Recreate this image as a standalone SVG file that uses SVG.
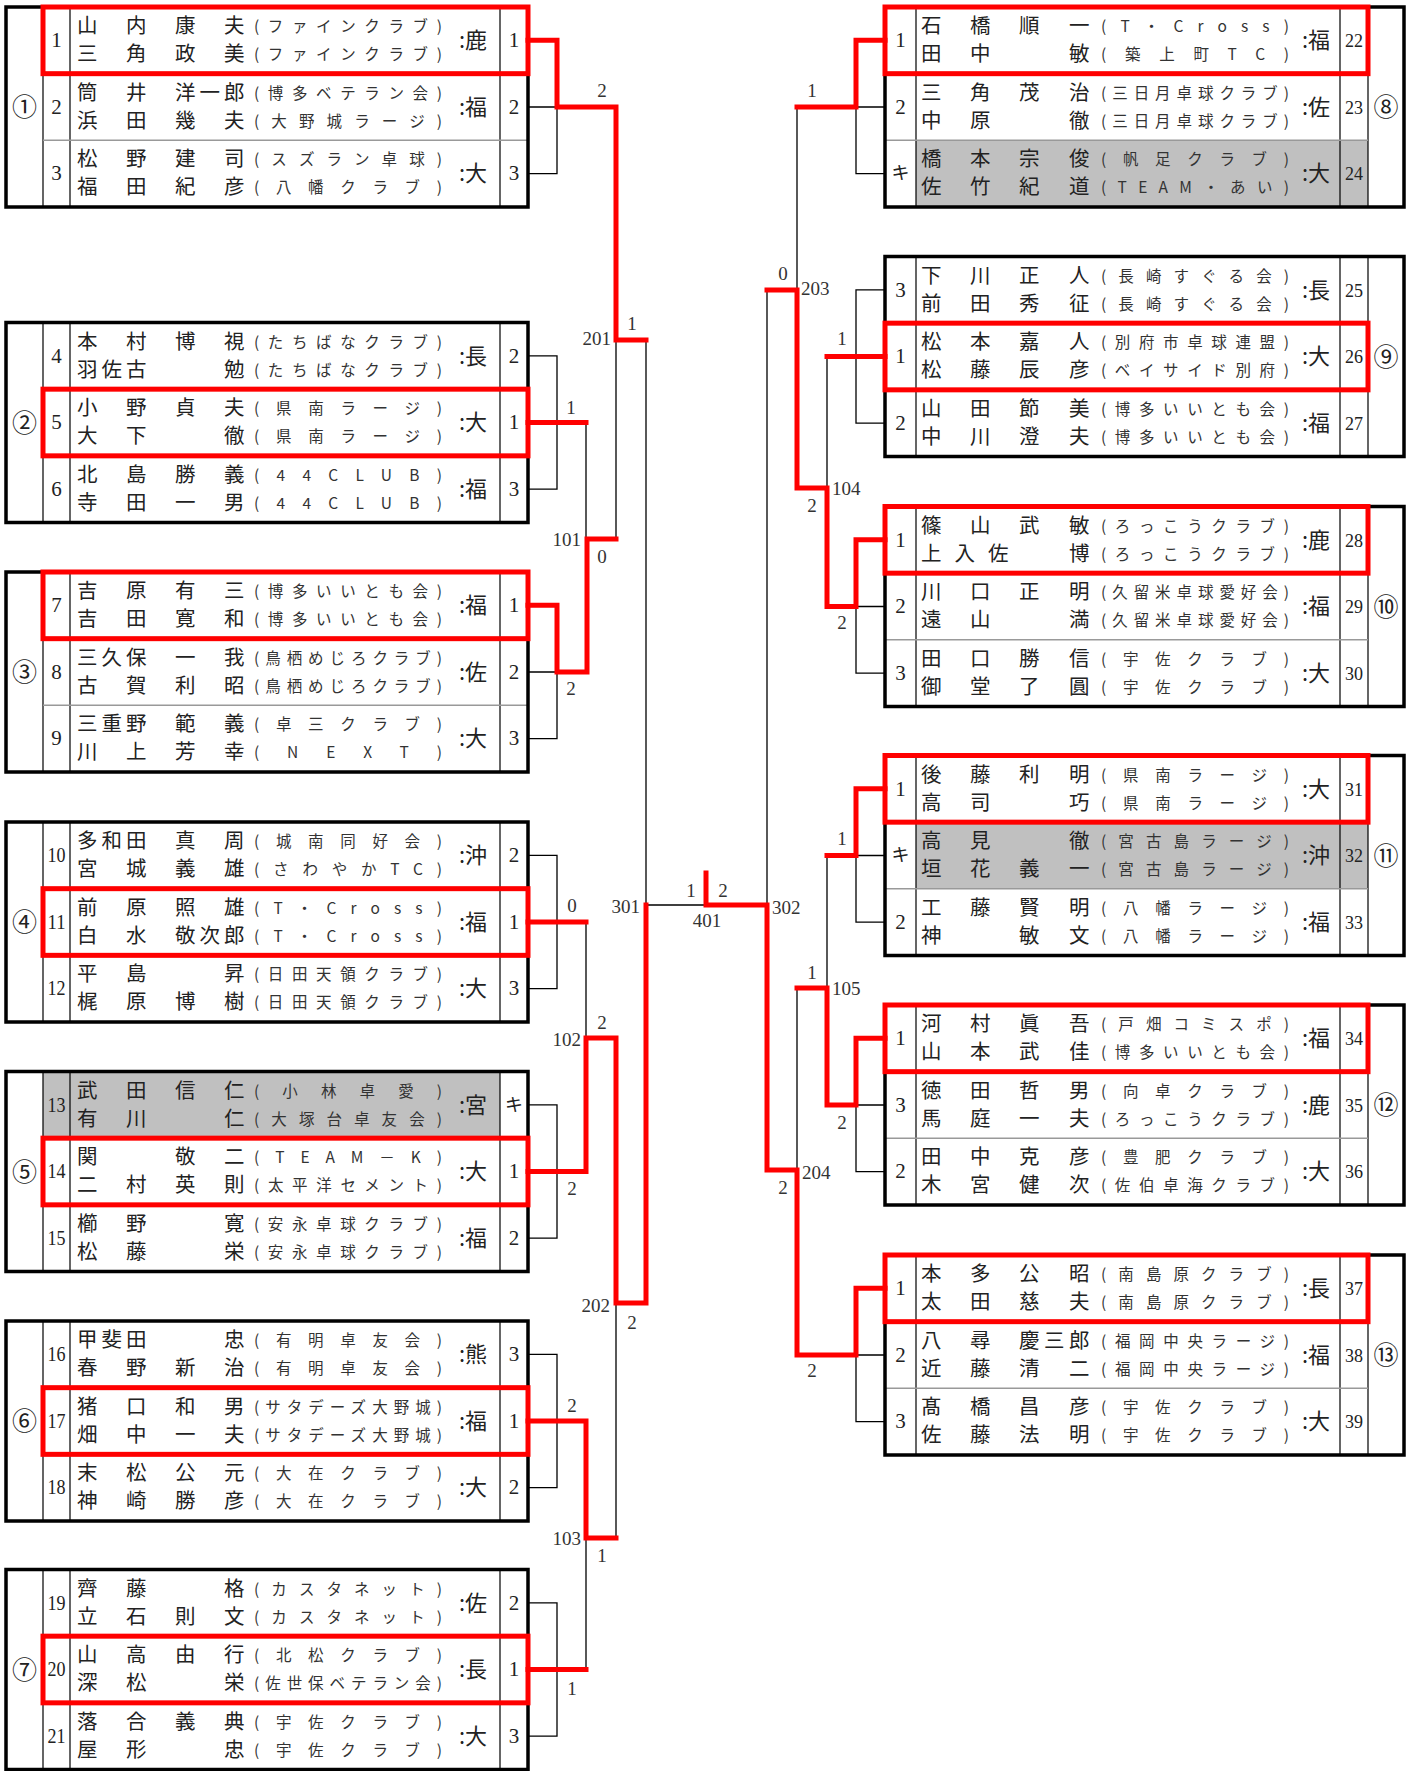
<svg xmlns="http://www.w3.org/2000/svg" xmlns:xlink="http://www.w3.org/1999/xlink" width="1412" height="1771" viewBox="0 0 1412 1771">
<style>
.ob{fill:none;stroke:#000;stroke-width:3.5}
.cd{stroke:#000;stroke-width:1.2}
.rd{stroke:#999;stroke-width:1.5}
.gr{fill:#c0c0c0}
.rb{fill:none;stroke:#f00;stroke-width:5}
.nm{font-family:"Noto Sans CJK JP",sans-serif;font-size:20.5px;fill:#222}
.cl{font-family:"Noto Sans CJK JP",sans-serif;font-size:15.5px;fill:#333}
.rg{font-family:"Noto Sans CJK JP",sans-serif;font-size:22px;fill:#222}
.ci{font-family:"Noto Sans CJK JP",sans-serif;font-size:25px;fill:#222;text-anchor:middle}
.ki{font-family:"Noto Sans CJK JP",sans-serif;font-size:18px;fill:#222;text-anchor:middle}
.nu{font-family:"Liberation Serif",serif;font-size:21px;fill:#222;text-anchor:middle}
.tn{font-family:"Liberation Serif",serif;font-size:19px;fill:#222;text-anchor:middle}
.lb{font-family:"Liberation Serif",serif;font-size:19px;fill:#333;text-anchor:middle}
.le{text-anchor:start}
.ri{text-anchor:end}
.c{fill:none;stroke:#000;stroke-width:1.3}
.r{fill:none;stroke:#f00;stroke-width:5;stroke-linecap:square}
</style>
<defs>
<g id="lframe">
<path class="cd" d="M43,0V200M70,0V200M500,0V200"/>
<path class="rd" d="M43,66.67H528M43,133.33H528"/>
<rect class="ob" x="6" y="0" width="522" height="200"/>
</g>
<g id="rframe">
<path class="cd" d="M916,0V200M1340,0V200M1368,0V200"/>
<path class="rd" d="M885,66.67H1368M885,133.33H1368"/>
<rect class="ob" x="885" y="0" width="519" height="200"/>
</g>
<rect id="lred" class="rb" x="43" y="0" width="485" height="66.67"/>
<rect id="rred" class="rb" x="885" y="0" width="483" height="66.67"/>
</defs>

<!-- LEFT GROUPS -->
<g id="group1" transform="translate(0,7)">
<use xlink:href="#lframe"/>
<use xlink:href="#lred" y="0"/>
<text class="ci" x="24.5" y="109">①</text>
<g id="e1">
<text class="nu" x="56.5" y="40">1</text>
<text class="nm" x="77 126 175 224" y="26">山内康夫</text>
<text class="nm" x="77 126 175 224" y="54">三角政美</text>
<text class="cl" x="254" y="25" textLength="188">(ファインクラブ)</text>
<text class="cl" x="254" y="53" textLength="188">(ファインクラブ)</text>
<text class="rg" x="459" y="41">:鹿</text>
<text class="nu" x="514" y="40">1</text>
</g>
<g id="e2" transform="translate(0,66.67)">
<text class="nu" x="56.5" y="40">2</text>
<text class="nm" x="77 126 175 199.5 224" y="26">筒井洋一郎</text>
<text class="nm" x="77 126 175 224" y="54">浜田幾夫</text>
<text class="cl" x="254" y="25" textLength="188">(博多ベテラン会)</text>
<text class="cl" x="254" y="53" textLength="188">(大野城ラージ)</text>
<text class="rg" x="459" y="41">:福</text>
<text class="nu" x="514" y="40">2</text>
</g>
<g id="e3" transform="translate(0,133.33)">
<text class="nu" x="56.5" y="40">3</text>
<text class="nm" x="77 126 175 224" y="26">松野建司</text>
<text class="nm" x="77 126 175 224" y="54">福田紀彦</text>
<text class="cl" x="254" y="25" textLength="188">(スズラン卓球)</text>
<text class="cl" x="254" y="53" textLength="188">(八幡クラブ)</text>
<text class="rg" x="459" y="41">:大</text>
<text class="nu" x="514" y="40">3</text>
</g>
</g>

<g id="group2" transform="translate(0,322.5)">
<use xlink:href="#lframe"/>
<use xlink:href="#lred" y="66.67"/>
<text class="ci" x="24.5" y="109">②</text>
<g id="e4">
<text class="nu" x="56.5" y="40">4</text>
<text class="nm" x="77 126 175 224" y="26">本村博視</text>
<text class="nm" x="77 101.5 126 224" y="54">羽佐古勉</text>
<text class="cl" x="254" y="25" textLength="188">(たちばなクラブ)</text>
<text class="cl" x="254" y="53" textLength="188">(たちばなクラブ)</text>
<text class="rg" x="459" y="41">:長</text>
<text class="nu" x="514" y="40">2</text>
</g>
<g id="e5" transform="translate(0,66.67)">
<text class="nu" x="56.5" y="40">5</text>
<text class="nm" x="77 126 175 224" y="26">小野貞夫</text>
<text class="nm" x="77 126 224" y="54">大下徹</text>
<text class="cl" x="254" y="25" textLength="188">(県南ラージ)</text>
<text class="cl" x="254" y="53" textLength="188">(県南ラージ)</text>
<text class="rg" x="459" y="41">:大</text>
<text class="nu" x="514" y="40">1</text>
</g>
<g id="e6" transform="translate(0,133.33)">
<text class="nu" x="56.5" y="40">6</text>
<text class="nm" x="77 126 175 224" y="26">北島勝義</text>
<text class="nm" x="77 126 175 224" y="54">寺田一男</text>
<text class="cl" x="254" y="25" textLength="188">(44CLUB)</text>
<text class="cl" x="254" y="53" textLength="188">(44CLUB)</text>
<text class="rg" x="459" y="41">:福</text>
<text class="nu" x="514" y="40">3</text>
</g>
</g>

<g id="group3" transform="translate(0,572)">
<use xlink:href="#lframe"/>
<use xlink:href="#lred" y="0"/>
<text class="ci" x="24.5" y="109">③</text>
<g id="e7">
<text class="nu" x="56.5" y="40">7</text>
<text class="nm" x="77 126 175 224" y="26">吉原有三</text>
<text class="nm" x="77 126 175 224" y="54">吉田寛和</text>
<text class="cl" x="254" y="25" textLength="188">(博多いいとも会)</text>
<text class="cl" x="254" y="53" textLength="188">(博多いいとも会)</text>
<text class="rg" x="459" y="41">:福</text>
<text class="nu" x="514" y="40">1</text>
</g>
<g id="e8" transform="translate(0,66.67)">
<text class="nu" x="56.5" y="40">8</text>
<text class="nm" x="77 101.5 126 175 224" y="26">三久保一我</text>
<text class="nm" x="77 126 175 224" y="54">古賀利昭</text>
<text class="cl" x="254" y="25" textLength="188">(鳥栖めじろクラブ)</text>
<text class="cl" x="254" y="53" textLength="188">(鳥栖めじろクラブ)</text>
<text class="rg" x="459" y="41">:佐</text>
<text class="nu" x="514" y="40">2</text>
</g>
<g id="e9" transform="translate(0,133.33)">
<text class="nu" x="56.5" y="40">9</text>
<text class="nm" x="77 101.5 126 175 224" y="26">三重野範義</text>
<text class="nm" x="77 126 175 224" y="54">川上芳幸</text>
<text class="cl" x="254" y="25" textLength="188">(卓三クラブ)</text>
<text class="cl" x="254" y="53" textLength="188">(NEXT)</text>
<text class="rg" x="459" y="41">:大</text>
<text class="nu" x="514" y="40">3</text>
</g>
</g>

<g id="group4" transform="translate(0,822)">
<use xlink:href="#lframe"/>
<use xlink:href="#lred" y="66.67"/>
<text class="ci" x="24.5" y="109">④</text>
<g id="e10">
<text class="nu" x="56.5" y="40" textLength="18" lengthAdjust="spacingAndGlyphs">10</text>
<text class="nm" x="77 101.5 126 175 224" y="26">多和田真周</text>
<text class="nm" x="77 126 175 224" y="54">宮城義雄</text>
<text class="cl" x="254" y="25" textLength="188">(城南同好会)</text>
<text class="cl" x="254" y="53" textLength="188">(さわやかTC)</text>
<text class="rg" x="459" y="41">:沖</text>
<text class="nu" x="514" y="40">2</text>
</g>
<g id="e11" transform="translate(0,66.67)">
<text class="nu" x="56.5" y="40" textLength="18" lengthAdjust="spacingAndGlyphs">11</text>
<text class="nm" x="77 126 175 224" y="26">前原照雄</text>
<text class="nm" x="77 126 175 199.5 224" y="54">白水敬次郎</text>
<text class="cl" x="254" y="25" textLength="188">(T・Cross)</text>
<text class="cl" x="254" y="53" textLength="188">(T・Cross)</text>
<text class="rg" x="459" y="41">:福</text>
<text class="nu" x="514" y="40">1</text>
</g>
<g id="e12" transform="translate(0,133.33)">
<text class="nu" x="56.5" y="40" textLength="18" lengthAdjust="spacingAndGlyphs">12</text>
<text class="nm" x="77 126 224" y="26">平島昇</text>
<text class="nm" x="77 126 175 224" y="54">梶原博樹</text>
<text class="cl" x="254" y="25" textLength="188">(日田天領クラブ)</text>
<text class="cl" x="254" y="53" textLength="188">(日田天領クラブ)</text>
<text class="rg" x="459" y="41">:大</text>
<text class="nu" x="514" y="40">3</text>
</g>
</g>

<g id="group5" transform="translate(0,1071.5)">
<rect class="gr" x="43" y="0" width="457" height="66.67"/>
<use xlink:href="#lframe"/>
<use xlink:href="#lred" y="66.67"/>
<text class="ci" x="24.5" y="109">⑤</text>
<g id="e13">
<text class="nu" x="56.5" y="40" textLength="18" lengthAdjust="spacingAndGlyphs">13</text>
<text class="nm" x="77 126 175 224" y="26">武田信仁</text>
<text class="nm" x="77 126 224" y="54">有川仁</text>
<text class="cl" x="254" y="25" textLength="188">(小林卓愛)</text>
<text class="cl" x="254" y="53" textLength="188">(大塚台卓友会)</text>
<text class="rg" x="459" y="41">:宮</text>
<text class="ki" x="514" y="39">キ</text>
</g>
<g id="e14" transform="translate(0,66.67)">
<text class="nu" x="56.5" y="40" textLength="18" lengthAdjust="spacingAndGlyphs">14</text>
<text class="nm" x="77 175 224" y="26">関敬二</text>
<text class="nm" x="77 126 175 224" y="54">二村英則</text>
<text class="cl" x="254" y="25" textLength="188">(TEAM－K)</text>
<text class="cl" x="254" y="53" textLength="188">(太平洋セメント)</text>
<text class="rg" x="459" y="41">:大</text>
<text class="nu" x="514" y="40">1</text>
</g>
<g id="e15" transform="translate(0,133.33)">
<text class="nu" x="56.5" y="40" textLength="18" lengthAdjust="spacingAndGlyphs">15</text>
<text class="nm" x="77 126 224" y="26">櫛野寛</text>
<text class="nm" x="77 126 224" y="54">松藤栄</text>
<text class="cl" x="254" y="25" textLength="188">(安永卓球クラブ)</text>
<text class="cl" x="254" y="53" textLength="188">(安永卓球クラブ)</text>
<text class="rg" x="459" y="41">:福</text>
<text class="nu" x="514" y="40">2</text>
</g>
</g>

<g id="group6" transform="translate(0,1321)">
<use xlink:href="#lframe"/>
<use xlink:href="#lred" y="66.67"/>
<text class="ci" x="24.5" y="109">⑥</text>
<g id="e16">
<text class="nu" x="56.5" y="40" textLength="18" lengthAdjust="spacingAndGlyphs">16</text>
<text class="nm" x="77 101.5 126 224" y="26">甲斐田忠</text>
<text class="nm" x="77 126 175 224" y="54">春野新治</text>
<text class="cl" x="254" y="25" textLength="188">(有明卓友会)</text>
<text class="cl" x="254" y="53" textLength="188">(有明卓友会)</text>
<text class="rg" x="459" y="41">:熊</text>
<text class="nu" x="514" y="40">3</text>
</g>
<g id="e17" transform="translate(0,66.67)">
<text class="nu" x="56.5" y="40" textLength="18" lengthAdjust="spacingAndGlyphs">17</text>
<text class="nm" x="77 126 175 224" y="26">猪口和男</text>
<text class="nm" x="77 126 175 224" y="54">畑中一夫</text>
<text class="cl" x="254" y="25" textLength="188">(サタデーズ大野城)</text>
<text class="cl" x="254" y="53" textLength="188">(サタデーズ大野城)</text>
<text class="rg" x="459" y="41">:福</text>
<text class="nu" x="514" y="40">1</text>
</g>
<g id="e18" transform="translate(0,133.33)">
<text class="nu" x="56.5" y="40" textLength="18" lengthAdjust="spacingAndGlyphs">18</text>
<text class="nm" x="77 126 175 224" y="26">末松公元</text>
<text class="nm" x="77 126 175 224" y="54">神崎勝彦</text>
<text class="cl" x="254" y="25" textLength="188">(大在クラブ)</text>
<text class="cl" x="254" y="53" textLength="188">(大在クラブ)</text>
<text class="rg" x="459" y="41">:大</text>
<text class="nu" x="514" y="40">2</text>
</g>
</g>

<g id="group7" transform="translate(0,1569.5)">
<use xlink:href="#lframe"/>
<use xlink:href="#lred" y="66.67"/>
<text class="ci" x="24.5" y="109">⑦</text>
<g id="e19">
<text class="nu" x="56.5" y="40" textLength="18" lengthAdjust="spacingAndGlyphs">19</text>
<text class="nm" x="77 126 224" y="26">齊藤格</text>
<text class="nm" x="77 126 175 224" y="54">立石則文</text>
<text class="cl" x="254" y="25" textLength="188">(カスタネット)</text>
<text class="cl" x="254" y="53" textLength="188">(カスタネット)</text>
<text class="rg" x="459" y="41">:佐</text>
<text class="nu" x="514" y="40">2</text>
</g>
<g id="e20" transform="translate(0,66.67)">
<text class="nu" x="56.5" y="40" textLength="18" lengthAdjust="spacingAndGlyphs">20</text>
<text class="nm" x="77 126 175 224" y="26">山高由行</text>
<text class="nm" x="77 126 224" y="54">深松栄</text>
<text class="cl" x="254" y="25" textLength="188">(北松クラブ)</text>
<text class="cl" x="254" y="53" textLength="188">(佐世保ベテラン会)</text>
<text class="rg" x="459" y="41">:長</text>
<text class="nu" x="514" y="40">1</text>
</g>
<g id="e21" transform="translate(0,133.33)">
<text class="nu" x="56.5" y="40" textLength="18" lengthAdjust="spacingAndGlyphs">21</text>
<text class="nm" x="77 126 175 224" y="26">落合義典</text>
<text class="nm" x="77 126 224" y="54">屋形忠</text>
<text class="cl" x="254" y="25" textLength="188">(宇佐クラブ)</text>
<text class="cl" x="254" y="53" textLength="188">(宇佐クラブ)</text>
<text class="rg" x="459" y="41">:大</text>
<text class="nu" x="514" y="40">3</text>
</g>
</g>

<!-- RIGHT GROUPS -->
<g id="group8" transform="translate(0,7)">
<rect class="gr" x="916" y="133.33" width="452" height="66.67"/>
<use xlink:href="#rframe"/>
<use xlink:href="#rred" y="0"/>
<text class="ci" x="1386" y="109">⑧</text>
<g id="e22">
<text class="nu" x="900.5" y="40">1</text>
<text class="nm" x="921 970 1019 1069" y="26">石橋順一</text>
<text class="nm" x="921 970 1069" y="54">田中敏</text>
<text class="cl" x="1101" y="25" textLength="188">(T・Cross)</text>
<text class="cl" x="1101" y="53" textLength="188">(築上町TC)</text>
<text class="rg" x="1302" y="41">:福</text>
<text class="tn" x="1354" y="40" textLength="18" lengthAdjust="spacingAndGlyphs">22</text>
</g>
<g id="e23" transform="translate(0,66.67)">
<text class="nu" x="900.5" y="40">2</text>
<text class="nm" x="921 970 1019 1069" y="26">三角茂治</text>
<text class="nm" x="921 970 1069" y="54">中原徹</text>
<text class="cl" x="1101" y="25" textLength="188">(三日月卓球クラブ)</text>
<text class="cl" x="1101" y="53" textLength="188">(三日月卓球クラブ)</text>
<text class="rg" x="1302" y="41">:佐</text>
<text class="tn" x="1354" y="40" textLength="18" lengthAdjust="spacingAndGlyphs">23</text>
</g>
<g id="e24" transform="translate(0,133.33)">
<text class="ki" x="900.5" y="39">キ</text>
<text class="nm" x="921 970 1019 1069" y="26">橋本宗俊</text>
<text class="nm" x="921 970 1019 1069" y="54">佐竹紀道</text>
<text class="cl" x="1101" y="25" textLength="188">(帆足クラブ)</text>
<text class="cl" x="1101" y="53" textLength="188">(TEAM・あい)</text>
<text class="rg" x="1302" y="41">:大</text>
<text class="tn" x="1354" y="40" textLength="18" lengthAdjust="spacingAndGlyphs">24</text>
</g>
</g>

<g id="group9" transform="translate(0,256.5)">
<use xlink:href="#rframe"/>
<use xlink:href="#rred" y="66.67"/>
<text class="ci" x="1386" y="109">⑨</text>
<g id="e25">
<text class="nu" x="900.5" y="40">3</text>
<text class="nm" x="921 970 1019 1069" y="26">下川正人</text>
<text class="nm" x="921 970 1019 1069" y="54">前田秀征</text>
<text class="cl" x="1101" y="25" textLength="188">(長崎すぐる会)</text>
<text class="cl" x="1101" y="53" textLength="188">(長崎すぐる会)</text>
<text class="rg" x="1302" y="41">:長</text>
<text class="tn" x="1354" y="40" textLength="18" lengthAdjust="spacingAndGlyphs">25</text>
</g>
<g id="e26" transform="translate(0,66.67)">
<text class="nu" x="900.5" y="40">1</text>
<text class="nm" x="921 970 1019 1069" y="26">松本嘉人</text>
<text class="nm" x="921 970 1019 1069" y="54">松藤辰彦</text>
<text class="cl" x="1101" y="25" textLength="188">(別府市卓球連盟)</text>
<text class="cl" x="1101" y="53" textLength="188">(ベイサイド別府)</text>
<text class="rg" x="1302" y="41">:大</text>
<text class="tn" x="1354" y="40" textLength="18" lengthAdjust="spacingAndGlyphs">26</text>
</g>
<g id="e27" transform="translate(0,133.33)">
<text class="nu" x="900.5" y="40">2</text>
<text class="nm" x="921 970 1019 1069" y="26">山田節美</text>
<text class="nm" x="921 970 1019 1069" y="54">中川澄夫</text>
<text class="cl" x="1101" y="25" textLength="188">(博多いいとも会)</text>
<text class="cl" x="1101" y="53" textLength="188">(博多いいとも会)</text>
<text class="rg" x="1302" y="41">:福</text>
<text class="tn" x="1354" y="40" textLength="18" lengthAdjust="spacingAndGlyphs">27</text>
</g>
</g>

<g id="group10" transform="translate(0,506.5)">
<use xlink:href="#rframe"/>
<use xlink:href="#rred" y="0"/>
<text class="ci" x="1386" y="109">⑩</text>
<g id="e28">
<text class="nu" x="900.5" y="40">1</text>
<text class="nm" x="921 970 1019 1069" y="26">篠山武敏</text>
<text class="nm" x="921 954.5 988 1069" y="54">上入佐博</text>
<text class="cl" x="1101" y="25" textLength="188">(ろっこうクラブ)</text>
<text class="cl" x="1101" y="53" textLength="188">(ろっこうクラブ)</text>
<text class="rg" x="1302" y="41">:鹿</text>
<text class="tn" x="1354" y="40" textLength="18" lengthAdjust="spacingAndGlyphs">28</text>
</g>
<g id="e29" transform="translate(0,66.67)">
<text class="nu" x="900.5" y="40">2</text>
<text class="nm" x="921 970 1019 1069" y="26">川口正明</text>
<text class="nm" x="921 970 1069" y="54">遠山満</text>
<text class="cl" x="1101" y="25" textLength="188">(久留米卓球愛好会)</text>
<text class="cl" x="1101" y="53" textLength="188">(久留米卓球愛好会)</text>
<text class="rg" x="1302" y="41">:福</text>
<text class="tn" x="1354" y="40" textLength="18" lengthAdjust="spacingAndGlyphs">29</text>
</g>
<g id="e30" transform="translate(0,133.33)">
<text class="nu" x="900.5" y="40">3</text>
<text class="nm" x="921 970 1019 1069" y="26">田口勝信</text>
<text class="nm" x="921 970 1019 1069" y="54">御堂了圓</text>
<text class="cl" x="1101" y="25" textLength="188">(宇佐クラブ)</text>
<text class="cl" x="1101" y="53" textLength="188">(宇佐クラブ)</text>
<text class="rg" x="1302" y="41">:大</text>
<text class="tn" x="1354" y="40" textLength="18" lengthAdjust="spacingAndGlyphs">30</text>
</g>
</g>

<g id="group11" transform="translate(0,755.5)">
<rect class="gr" x="916" y="66.67" width="452" height="66.67"/>
<use xlink:href="#rframe"/>
<use xlink:href="#rred" y="0"/>
<text class="ci" x="1386" y="109">⑪</text>
<g id="e31">
<text class="nu" x="900.5" y="40">1</text>
<text class="nm" x="921 970 1019 1069" y="26">後藤利明</text>
<text class="nm" x="921 970 1069" y="54">高司巧</text>
<text class="cl" x="1101" y="25" textLength="188">(県南ラージ)</text>
<text class="cl" x="1101" y="53" textLength="188">(県南ラージ)</text>
<text class="rg" x="1302" y="41">:大</text>
<text class="tn" x="1354" y="40" textLength="18" lengthAdjust="spacingAndGlyphs">31</text>
</g>
<g id="e32" transform="translate(0,66.67)">
<text class="ki" x="900.5" y="39">キ</text>
<text class="nm" x="921 970 1069" y="26">高見徹</text>
<text class="nm" x="921 970 1019 1069" y="54">垣花義一</text>
<text class="cl" x="1101" y="25" textLength="188">(宮古島ラージ)</text>
<text class="cl" x="1101" y="53" textLength="188">(宮古島ラージ)</text>
<text class="rg" x="1302" y="41">:沖</text>
<text class="tn" x="1354" y="40" textLength="18" lengthAdjust="spacingAndGlyphs">32</text>
</g>
<g id="e33" transform="translate(0,133.33)">
<text class="nu" x="900.5" y="40">2</text>
<text class="nm" x="921 970 1019 1069" y="26">工藤賢明</text>
<text class="nm" x="921 1019 1069" y="54">神敏文</text>
<text class="cl" x="1101" y="25" textLength="188">(八幡ラージ)</text>
<text class="cl" x="1101" y="53" textLength="188">(八幡ラージ)</text>
<text class="rg" x="1302" y="41">:福</text>
<text class="tn" x="1354" y="40" textLength="18" lengthAdjust="spacingAndGlyphs">33</text>
</g>
</g>

<g id="group12" transform="translate(0,1005)">
<use xlink:href="#rframe"/>
<use xlink:href="#rred" y="0"/>
<text class="ci" x="1386" y="109">⑫</text>
<g id="e34">
<text class="nu" x="900.5" y="40">1</text>
<text class="nm" x="921 970 1019 1069" y="26">河村眞吾</text>
<text class="nm" x="921 970 1019 1069" y="54">山本武佳</text>
<text class="cl" x="1101" y="25" textLength="188">(戸畑コミスポ)</text>
<text class="cl" x="1101" y="53" textLength="188">(博多いいとも会)</text>
<text class="rg" x="1302" y="41">:福</text>
<text class="tn" x="1354" y="40" textLength="18" lengthAdjust="spacingAndGlyphs">34</text>
</g>
<g id="e35" transform="translate(0,66.67)">
<text class="nu" x="900.5" y="40">3</text>
<text class="nm" x="921 970 1019 1069" y="26">徳田哲男</text>
<text class="nm" x="921 970 1019 1069" y="54">馬庭一夫</text>
<text class="cl" x="1101" y="25" textLength="188">(向卓クラブ)</text>
<text class="cl" x="1101" y="53" textLength="188">(ろっこうクラブ)</text>
<text class="rg" x="1302" y="41">:鹿</text>
<text class="tn" x="1354" y="40" textLength="18" lengthAdjust="spacingAndGlyphs">35</text>
</g>
<g id="e36" transform="translate(0,133.33)">
<text class="nu" x="900.5" y="40">2</text>
<text class="nm" x="921 970 1019 1069" y="26">田中克彦</text>
<text class="nm" x="921 970 1019 1069" y="54">木宮健次</text>
<text class="cl" x="1101" y="25" textLength="188">(豊肥クラブ)</text>
<text class="cl" x="1101" y="53" textLength="188">(佐伯卓海クラブ)</text>
<text class="rg" x="1302" y="41">:大</text>
<text class="tn" x="1354" y="40" textLength="18" lengthAdjust="spacingAndGlyphs">36</text>
</g>
</g>

<g id="group13" transform="translate(0,1255)">
<use xlink:href="#rframe"/>
<use xlink:href="#rred" y="0"/>
<text class="ci" x="1386" y="109">⑬</text>
<g id="e37">
<text class="nu" x="900.5" y="40">1</text>
<text class="nm" x="921 970 1019 1069" y="26">本多公昭</text>
<text class="nm" x="921 970 1019 1069" y="54">太田慈夫</text>
<text class="cl" x="1101" y="25" textLength="188">(南島原クラブ)</text>
<text class="cl" x="1101" y="53" textLength="188">(南島原クラブ)</text>
<text class="rg" x="1302" y="41">:長</text>
<text class="tn" x="1354" y="40" textLength="18" lengthAdjust="spacingAndGlyphs">37</text>
</g>
<g id="e38" transform="translate(0,66.67)">
<text class="nu" x="900.5" y="40">2</text>
<text class="nm" x="921 970 1019 1044 1069" y="26">八尋慶三郎</text>
<text class="nm" x="921 970 1019 1069" y="54">近藤清二</text>
<text class="cl" x="1101" y="25" textLength="188">(福岡中央ラージ)</text>
<text class="cl" x="1101" y="53" textLength="188">(福岡中央ラージ)</text>
<text class="rg" x="1302" y="41">:福</text>
<text class="tn" x="1354" y="40" textLength="18" lengthAdjust="spacingAndGlyphs">38</text>
</g>
<g id="e39" transform="translate(0,133.33)">
<text class="nu" x="900.5" y="40">3</text>
<text class="nm" x="921 970 1019 1069" y="26">髙橋昌彦</text>
<text class="nm" x="921 970 1019 1069" y="54">佐藤法明</text>
<text class="cl" x="1101" y="25" textLength="188">(宇佐クラブ)</text>
<text class="cl" x="1101" y="53" textLength="188">(宇佐クラブ)</text>
<text class="rg" x="1302" y="41">:大</text>
<text class="tn" x="1354" y="40" textLength="18" lengthAdjust="spacingAndGlyphs">39</text>
</g>
</g>

<!-- CONNECTORS -->
<g id="connectors">
<path class="c" d="M528,107H557V173.7H528M528,355.8H557V489.2H528M528,672H557V738.7H528M528,855.3H557V988.7H528M528,1104.8H557V1238.2H528M528,1354.3H557V1487.7H528M528,1602.8H557V1736.2H528"/>
<path class="c" d="M586,422.5V539M616,539V340M646,340V905H706M586,922V1038M586,1669.5V1538M616,1538V1303"/>
<path class="c" d="M885,107H856V173.7H885M885,289.8H856V423.2H885M885,606.5H856V673.2H885M885,855.5H856V922.2H885M885,1105H856V1171.7H885M885,1355H856V1421.7H885"/>
<path class="c" d="M797,107V290M827,356.5V488M767,290V905M827,855.5V988M797,988V1170"/>
<path class="r" d="M528,40.3H557V107H616V340H646"/>
<path class="r" d="M528,422.5H586"/>
<path class="r" d="M528,605.3H557V672H587V539H616"/>
<path class="r" d="M528,922H586"/>
<path class="r" d="M528,1171.5H586V1038H616V1303H646V905"/>
<path class="r" d="M528,1421H586V1538H616"/>
<path class="r" d="M528,1669.5H586"/>
<path class="r" d="M885,40.3H856V107H797"/>
<path class="r" d="M885,356.5H827"/>
<path class="r" d="M885,539.8H856V606.5H827V488H797V290H767"/>
<path class="r" d="M885,788.8H856V855.5H827"/>
<path class="r" d="M885,1038.3H856V1105H827V988H797"/>
<path class="r" d="M885,1288.3H856V1355H797V1170H767V905H706V873"/>
</g>

<g id="labels">
<text class="lb" x="602" y="97">2</text>
<text class="lb" x="632" y="330">1</text>
<text class="lb ri" x="611" y="345">201</text>
<text class="lb" x="571" y="414">1</text>
<text class="lb ri" x="581" y="546">101</text>
<text class="lb" x="602" y="563">0</text>
<text class="lb" x="571" y="695">2</text>
<text class="lb" x="572" y="912">0</text>
<text class="lb ri" x="640" y="913">301</text>
<text class="lb" x="691" y="897">1</text>
<text class="lb" x="723" y="897">2</text>
<text class="lb" x="707" y="927">401</text>
<text class="lb" x="602" y="1029">2</text>
<text class="lb ri" x="581" y="1046">102</text>
<text class="lb" x="572" y="1195">2</text>
<text class="lb ri" x="610" y="1312">202</text>
<text class="lb" x="632" y="1329">2</text>
<text class="lb" x="572" y="1412">2</text>
<text class="lb ri" x="581" y="1545">103</text>
<text class="lb" x="602" y="1562">1</text>
<text class="lb" x="572" y="1695">1</text>
<text class="lb" x="812" y="97">1</text>
<text class="lb" x="783" y="280">0</text>
<text class="lb le" x="801" y="295">203</text>
<text class="lb" x="842" y="345">1</text>
<text class="lb le" x="832" y="495">104</text>
<text class="lb" x="812" y="512">2</text>
<text class="lb" x="842" y="629">2</text>
<text class="lb" x="842" y="845">1</text>
<text class="lb le" x="772" y="914">302</text>
<text class="lb" x="812" y="979">1</text>
<text class="lb le" x="832" y="995">105</text>
<text class="lb" x="842" y="1129">2</text>
<text class="lb le" x="802" y="1179">204</text>
<text class="lb" x="783" y="1194">2</text>
<text class="lb" x="812" y="1377">2</text>
</g>
</svg>
